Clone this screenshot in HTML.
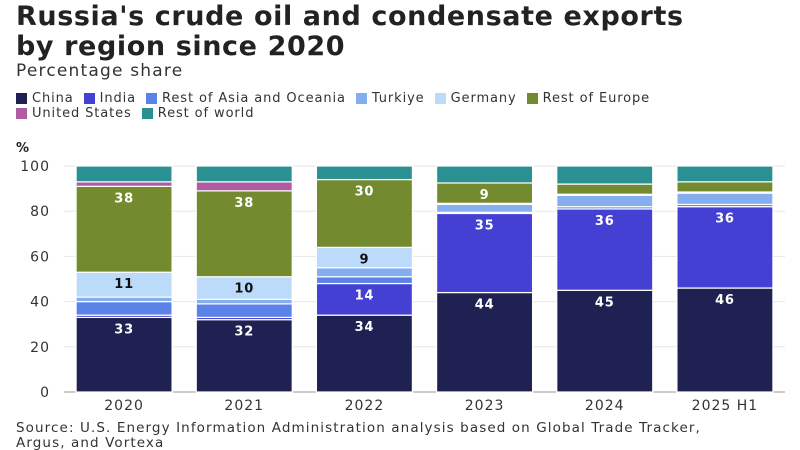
<!DOCTYPE html>
<html><head><meta charset="utf-8"><style>
body{margin:0;background:#fff;font-family:"DejaVu Sans","Liberation Sans",sans-serif;color:#222}
#wrap{position:relative;width:800px;height:450px;overflow:hidden}
h1{position:absolute;left:16px;top:2px;margin:0;font-size:27px;line-height:30px;font-weight:bold;color:#222;letter-spacing:0.6px}
.sub{position:absolute;left:16px;top:61px;font-size:17px;color:#333;letter-spacing:1.2px}
.leg{position:absolute;left:16px;font-size:13px;color:#333;display:flex;gap:0;letter-spacing:0.9px;white-space:nowrap}
.li{display:flex;align-items:center;margin-right:10px}
.sw{width:11px;height:11px;margin-right:5px;display:inline-block}
.src{position:absolute;left:16px;top:421px;font-size:13.5px;line-height:15px;color:#333;letter-spacing:1.1px;white-space:nowrap}
svg text{font-family:"DejaVu Sans","Liberation Sans",sans-serif}
</style></head><body><div id="wrap">
<h1>Russia's crude oil and condensate exports<br>by region since 2020</h1>
<div class="sub">Percentage share</div>
<div class="leg" style="top:91px">
<span class="li"><i class="sw" style="background:#1f2152"></i>China</span>
<span class="li"><i class="sw" style="background:#4540d4"></i>India</span>
<span class="li"><i class="sw" style="background:#5b82e6"></i>Rest of Asia and Oceania</span>
<span class="li"><i class="sw" style="background:#84aef0"></i>Turkiye</span>
<span class="li"><i class="sw" style="background:#bcdafa"></i>Germany</span>
<span class="li"><i class="sw" style="background:#738a2f"></i>Rest of Europe</span>
</div>
<div class="leg" style="top:106px">
<span class="li"><i class="sw" style="background:#b05ca3"></i>United States</span>
<span class="li"><i class="sw" style="background:#2a9091"></i>Rest of world</span>
</div>
<svg id="svg" width="800" height="450" style="position:absolute;left:0;top:0"></svg>
<div class="src">Source: U.S. Energy Information Administration analysis based on Global Trade Tracker,<br>Argus, and Vortexa</div>
</div>
<script>
const categories=["2020","2021","2022","2023","2024","2025 H1"];
const china=[33,32,34,44,45,46];
const india=[1,1,14,35,36,36];
const restAsia=[6,6,3,0.5,1,1];
const turkiye=[2,2,4,3.5,5,5];
const germany=[11,10,9,0.5,0.5,0.5];
const restEurope=[38,38,30,9,4.5,4.5];
const us=[2,4,0,0,0,0];
const restWorld=[7,7,6,7.5,8,7];
const labelChina=[33,32,34,44,45,46];
const labelIndia=[null,null,14,35,36,36];
const labelGermany=[11,10,9,null,null,null];
const labelEurope=[38,38,30,9,null,null];
const yTicks=[0,20,40,60,80,100];
const series=[
 {n:"china",v:china,c:"#1f2152",l:labelChina,t:"#fff"},
 {n:"india",v:india,c:"#4540d4",l:labelIndia,t:"#fff"},
 {n:"rest-of-asia",v:restAsia,c:"#5b82e6"},
 {n:"turkiye",v:turkiye,c:"#84aef0"},
 {n:"germany",v:germany,c:"#bcdafa",l:labelGermany,t:"#111"},
 {n:"rest-of-europe",v:restEurope,c:"#738a2f",l:labelEurope,t:"#fff"},
 {n:"united-states",v:us,c:"#b05ca3"},
 {n:"rest-of-world",v:restWorld,c:"#2a9091"}];
const svg=document.getElementById('svg');const NS="http://www.w3.org/2000/svg";
const y0=392,y1=166,left=64,right=785;
function y(v){return y0-(y0-y1)*v/100;}
const step=(right-left)/categories.length;const bw=96;
function xc(i){return left+step*i+step/2;}
function mk(t,a){const e=document.createElementNS(NS,t);for(const k in a)e.setAttribute(k,a[k]);svg.appendChild(e);return e;}
let pt=mk('text',{x:16,y:152,'font-size':13,'font-weight':'bold',fill:'#222'});pt.textContent='%';


yTicks.forEach(t=>{
 const g=mk('line',{x1:left,x2:right,y1:y(t),y2:y(t),stroke:t===0?'#999':'#e6e6e6','stroke-width':1});
 
 
 const tx=mk('text',{x:50,y:y(t)+5,'text-anchor':'end','font-size':14,fill:'#333','letter-spacing':1});tx.textContent=t;
 
 
});
categories.forEach((c,i)=>{
 let acc=0;const x=xc(i)-bw/2;
 series.forEach(s=>{
  const v=s.v[i];if(v>0){
   const r=mk('rect',{x:x,y:y(acc+v),width:bw,height:y(acc)-y(acc+v),fill:s.c,stroke:'#fff','stroke-width':1.2});
   
   
   if(s.l&&s.l[i]!=null){
    const tx=mk('text',{x:xc(i),y:y(acc+v)+16,'text-anchor':'middle','font-size':13,'font-weight':'bold',fill:s.t,'letter-spacing':0.8});
    tx.textContent=s.l[i];
    
    
   }
  }
  acc+=v;
 });
 const xl=mk('text',{x:xc(i),y:410,'text-anchor':'middle','font-size':14,fill:'#333','letter-spacing':1});xl.textContent=c;
 
 
});
</script></body></html>
